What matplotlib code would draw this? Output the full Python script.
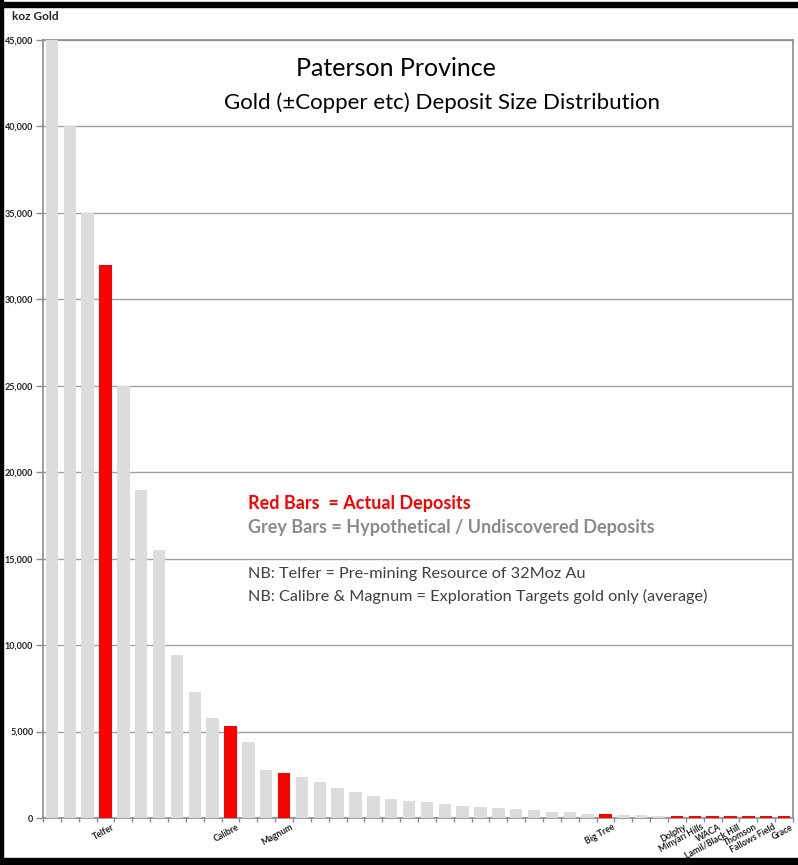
import matplotlib
matplotlib.use("Agg")
import matplotlib.pyplot as plt
from matplotlib.patches import Rectangle

plt.rcParams['font.family'] = ['Lato', 'DejaVu Sans']

# ---- data (koz gold) ----
values = [45000, 40000, 35000, 32000, 25000, 19000, 15500, 9400, 7300, 5800,
          5300, 4400, 2800, 2600, 2400, 2100, 1750, 1500, 1300, 1100,
          1000, 900, 800, 720, 660, 570, 500, 490, 360, 350,
          210, 250, 200, 190, 140, 100, 100, 100, 100, 100,
          100, 100]
actual = [False, False, False, True, False, False, False, False, False, False,
          True, False, False, True, False, False, False, False, False, False,
          False, False, False, False, False, False, False, False, False, False,
          False, True, False, False, False, True, True, True, True, True,
          True, True]
labels = ['', '', '', 'Telfer', '', '', '', '', '', '',
          'Calibre', '', '', 'Magnum', '', '', '', '', '', '',
          '', '', '', '', '', '', '', '', '', '',
          '', 'Big Tree', '', '', '', 'Dolphy', 'Minyari Hills', 'WACA',
          'Lamil/Black Hill', 'Thomson', 'Fallows Field', 'Grace']
yticks = [0, 5000, 10000, 15000, 20000, 25000, 30000, 35000, 40000, 45000]
ytick_labels = ['0', '5,000', '10,000', '15,000', '20,000', '25,000',
                '30,000', '35,000', '40,000', '45,000']

RED = '#FF0000'
GREY = '#DCDCDC'
AXC = '#8C8C8C'

fig = plt.figure(figsize=(7.98, 8.65), dpi=100)
ax = fig.add_axes([43/798, 1-818/865, (793-43)/798, (818-40)/865])

x = list(range(len(values)))
colors = [RED if a else GREY for a in actual]
ax.bar(x, values, width=0.7, color=colors, zorder=3)

ax.set_xlim(-0.5, len(values)-0.5)
ax.set_ylim(0, 45000)
ax.set_yticks(yticks)
ax.set_yticklabels(ytick_labels, fontsize=6.5, fontweight='bold', color='#222222')
ax.yaxis.grid(True, color='#A0A0A0', linewidth=1.0, zorder=0)
ax.set_axisbelow(True)
ax.tick_params(axis='y', length=5, width=1, color=AXC, pad=2)

# category boundary ticks
ax.set_xticks([i + 0.5 for i in range(-1, len(values))], minor=False)
ax.set_xticklabels([])
ax.tick_params(axis='x', length=3, width=1, color=AXC)
for i, lab in enumerate(labels):
    if lab:
        ax.text(i + 0.35, -250, lab, rotation=29, ha='right', va='top',
                rotation_mode='anchor', fontsize=6.3, fontweight='bold',
                color='#222222', transform=ax.transData, clip_on=False)

for s in ax.spines.values():
    s.set_color(AXC)
    s.set_linewidth(1.2)

# titles and notes
fig.text(396/798, 1-68/865, 'Paterson Province', ha='center', va='center',
         fontsize=18, color='black')
fig.text(442/798, 1-103/865, 'Gold (\u00b1Copper etc) Deposit Size Distribution',
         ha='center', va='center', fontsize=16, color='black')
fig.text(12/798, 1-17/865, 'koz Gold', ha='left', va='center', fontsize=8.5,
         fontweight='bold', color='#222222')

fig.text(248/798, 1-503/865, 'Red Bars  = Actual Deposits', ha='left', va='center',
         fontsize=13, fontweight='bold', color=RED)
fig.text(248/798, 1-527/865, 'Grey Bars = Hypothetical / Undiscovered Deposits',
         ha='left', va='center', fontsize=13, fontweight='bold', color='#8A8A8A')
fig.text(248/798, 1-574/865, 'NB: Telfer = Pre-mining Resource of 32Moz Au',
         ha='left', va='center', fontsize=11.7, color='#404040')
fig.text(248/798, 1-596/865,
         'NB: Calibre & Magnum = Exploration Targets gold only (average)',
         ha='left', va='center', fontsize=11.7, color='#404040')

# black frame (top, left, bottom)
fig.patches.append(Rectangle((0, 1-7/865), 1, 5/865, transform=fig.transFigure,
                             color='black', zorder=10))
fig.patches.append(Rectangle((0, 0), 3/798, 1, transform=fig.transFigure,
                             color='black', zorder=10))
fig.patches.append(Rectangle((0, 0), 1, 7/865, transform=fig.transFigure,
                             color='black', zorder=10))

fig.savefig('out.png', dpi=100, facecolor='white')
